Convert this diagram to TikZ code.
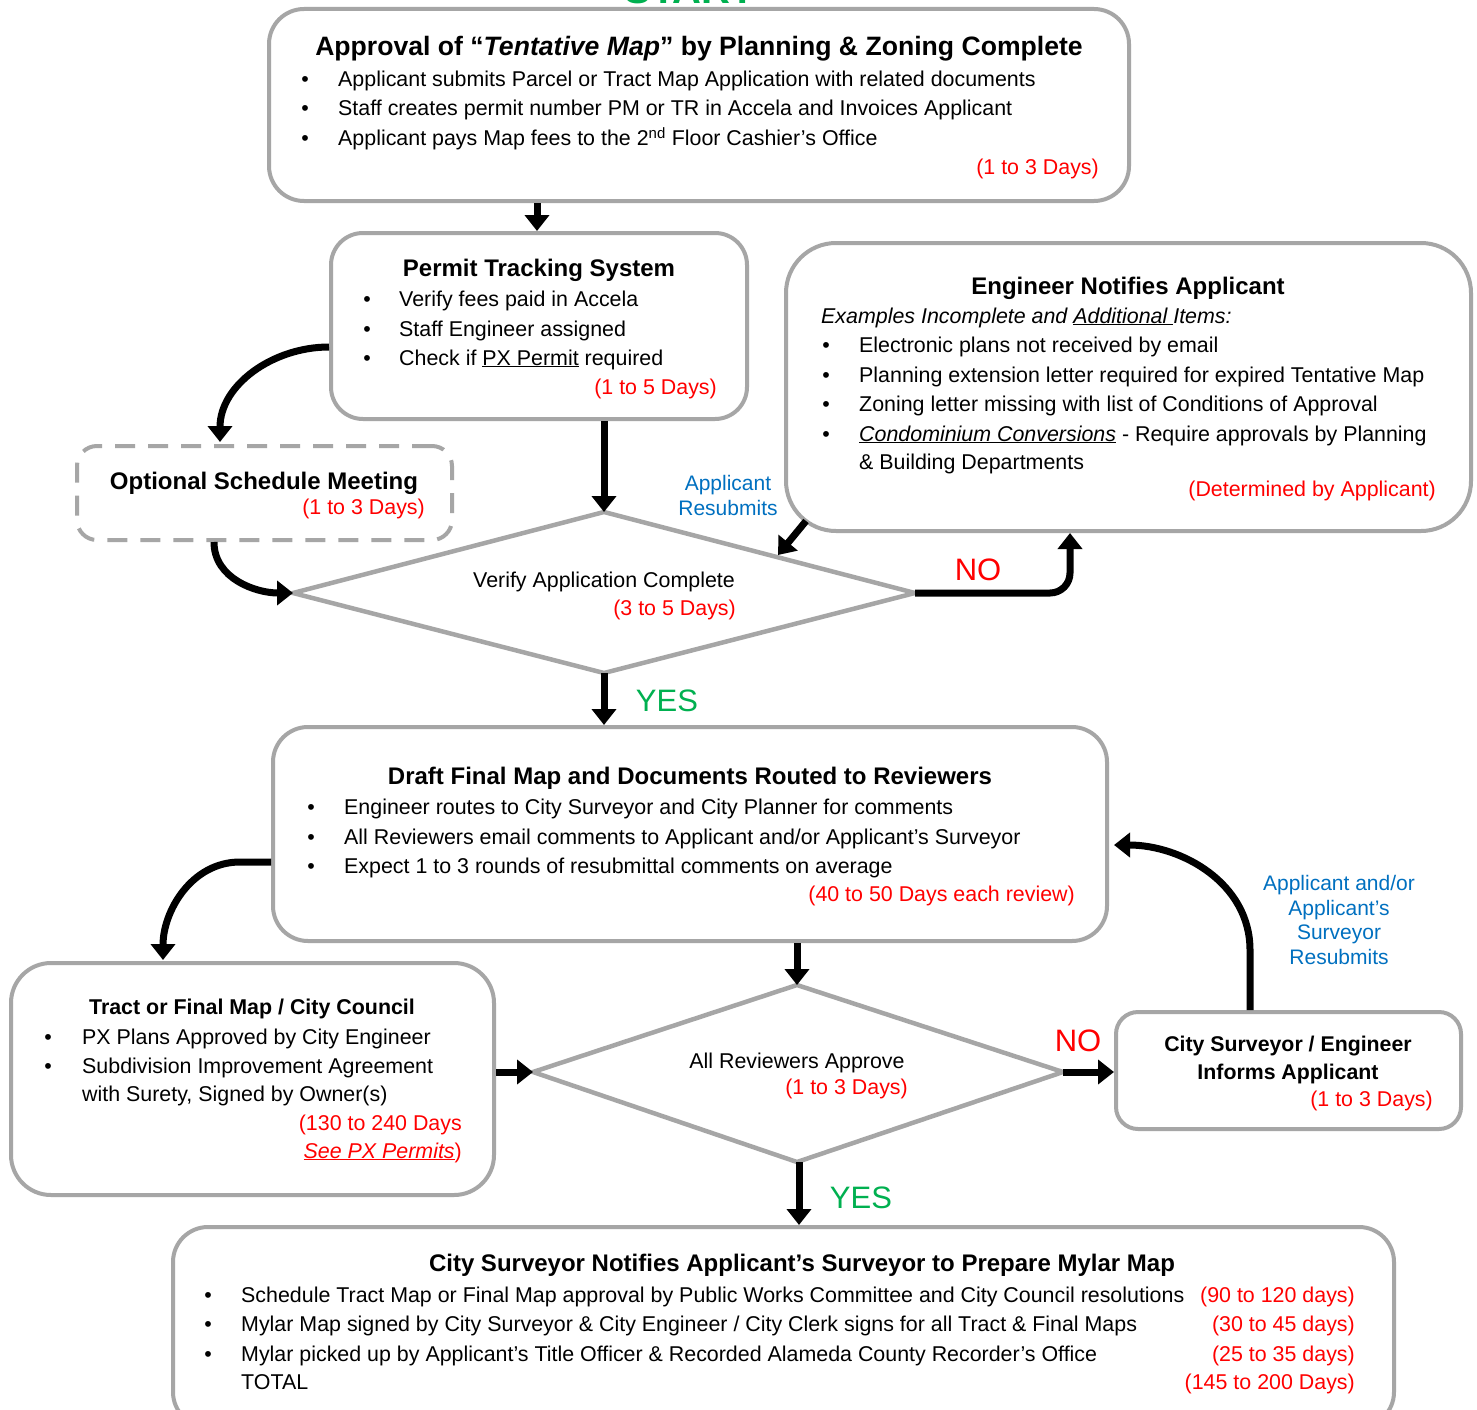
\documentclass[tikz,border=0pt]{standalone}
\usepackage{fontspec}
\setmainfont{Liberation Sans}
\usetikzlibrary{arrows.meta,calc}
\definecolor{bgray}{HTML}{A6A6A6}
\definecolor{dred}{HTML}{FF0000}
\definecolor{dblue}{HTML}{0070C0}
\definecolor{dgreen}{HTML}{00B050}
\tikzset{
  box/.style={draw=bgray, line width=4pt, rounded corners=#1, rectangle, inner sep=0},
  dbox/.style={draw=bgray, line width=4pt, rounded corners=20pt, rectangle, inner sep=0, dash pattern=on 20pt off 13pt},
  dia/.style={draw=bgray, line width=4.5pt, line join=miter},
  ttl/.style={anchor=base, inner sep=0, font=\fontsize{24}{28}\selectfont\bfseries},
  bul/.style={anchor=base, inner sep=0, font=\fontsize{21.4}{25}\selectfont},
  tx/.style={anchor=base west, inner sep=0, font=\fontsize{21.4}{25}\selectfont},
  dy/.style={anchor=base east, inner sep=0, text=dred, font=\fontsize{21.4}{25}\selectfont},
  ctx/.style={anchor=base, inner sep=0, font=\fontsize{21.4}{25}\selectfont},
  blu/.style={anchor=base, inner sep=0, text=dblue, font=\fontsize{21}{25}\selectfont},
  yn/.style={anchor=base, inner sep=0, font=\fontsize{31}{35}\selectfont},
  arr/.style={line width=7pt, -{Triangle[width=24pt,length=16pt]}},
}
\begin{document}
\begin{tikzpicture}[x=1pt,y=-1pt]
\useasboundingbox (0,0) rectangle (1477,1410);
\fill[white] (0,0) rectangle (1477,1410);

% START (cut off at top, as in the reference)
\node[anchor=base, inner sep=0, text=dgreen, font=\fontsize{40}{44}\selectfont\bfseries] (start) at (690,4) {START};

% Boxes
\node[box=35pt, minimum width=860pt, minimum height=192pt] (B1) at (699,105) {};
\node[box=32pt, minimum width=416pt, minimum height=186pt] (B2) at (539,326) {};
\node[box=50pt, minimum width=685pt, minimum height=288pt] (B3) at (1128.5,387) {};
\node[dbox, minimum width=375pt, minimum height=94pt] (OP) at (264.5,493) {};
\node[box=35pt, minimum width=834pt, minimum height=214pt] (B4) at (690,834) {};
\node[box=40pt, minimum width=483pt, minimum height=232pt] (B5) at (252.5,1079) {};
\node[box=22pt, minimum width=345pt, minimum height=117pt] (B6) at (1288.5,1070.5) {};
\node[box=35pt, minimum width=1221pt, minimum height=200pt] (B7) at (783.5,1327) {};

% Diamonds
\coordinate (d1t) at (604,512); \coordinate (d1l) at (293,593);
\coordinate (d1r) at (915,593); \coordinate (d1b) at (604,673);
\draw[dia] (d1t) -- (d1r) -- (d1b) -- (d1l) -- cycle;
\coordinate (d2t) at (797,985); \coordinate (d2l) at (533,1072);
\coordinate (d2r) at (1063,1072); \coordinate (d2b) at (797,1162);
\draw[dia] (d2t) -- (d2r) -- (d2b) -- (d2l) -- cycle;

% Box 1 text
\node[ttl, font=\fontsize{26.6}{30}\selectfont\bfseries] (t1) at (699,56) {Approval of \textquotedblleft\textit{Tentative Map}\textquotedblright{} by Planning \& Zoning Complete};
\node[bul] (b1a) at (305,87) {\textbullet};
\node[bul] (b1b) at (305,116) {\textbullet};
\node[bul] (b1c) at (305,146) {\textbullet};
\node[tx] (x1a) at (338,87) {Applicant submits Parcel or Tract Map Application with related documents};
\node[tx] (x1b) at (338,116) {Staff creates permit number PM or TR in Accela and Invoices Applicant};
\node[tx] (x1c) at (338,146) {Applicant pays Map fees to the 2\textsuperscript{nd} Floor Cashier\textquoteright s Office};
\node[dy] (y1) at (1099,174) {(1 to 3 Days)};

% Box 2 text
\node[ttl] (t2) at (539,276) {Permit Tracking System};
\node[bul] (b2a) at (367,306) {\textbullet};
\node[bul] (b2b) at (367,336) {\textbullet};
\node[bul] (b2c) at (367,365) {\textbullet};
\node[tx] (x2a) at (399,306) {Verify fees paid in Accela};
\node[tx] (x2b) at (399,336) {Staff Engineer assigned};
\node[tx] (x2c) at (399,365) {Check if \underline{PX Permit} required};
\node[dy] (y2) at (717,394) {(1 to 5 Days)};

% Box 3 text
\node[ttl] (t3) at (1128,294) {Engineer Notifies Applicant};
\node[tx] (x3i) at (821,323) {\itshape Examples Incomplete and \underline{Additional }Items:};
\node[bul] (b3a) at (826,352) {\textbullet};
\node[bul] (b3b) at (826,382) {\textbullet};
\node[bul] (b3c) at (826,411) {\textbullet};
\node[bul] (b3d) at (826,441) {\textbullet};
\node[tx] (x3a) at (859,352) {Electronic plans not received by email};
\node[tx] (x3b) at (859,382) {Planning extension letter required for expired Tentative Map};
\node[tx] (x3c) at (859,411) {Zoning letter missing with list of Conditions of Approval};
\node[tx] (x3d) at (859,441) {\underline{\itshape Condominium Conversions} - Require approvals by Planning};
\node[tx] (x3e) at (859,469) {\& Building Departments};
\node[dy] (y3) at (1436,496) {(Determined by Applicant)};

% Optional
\node[ttl] (top) at (264,489) {Optional Schedule Meeting};
\node[dy] (yop) at (425,514) {(1 to 3 Days)};

% Diamond 1 text
\node[ctx] (xd1) at (604,587) {Verify Application Complete};
\node[dy] (yd1) at (736,615) {(3 to 5 Days)};
\node[blu] (r1a) at (728,490) {Applicant};
\node[blu] (r1b) at (728,515) {Resubmits};
\node[yn, text=dred] (no1) at (978,580) {NO};
\node[yn, text=dgreen] (yes1) at (667,711) {YES};

% Box 4 text
\node[ttl] (t4) at (690,784) {Draft Final Map and Documents Routed to Reviewers};
\node[bul] (b4a) at (311,814) {\textbullet};
\node[bul] (b4b) at (311,844) {\textbullet};
\node[bul] (b4c) at (311,873) {\textbullet};
\node[tx] (x4a) at (344,814) {Engineer routes to City Surveyor and City Planner for comments};
\node[tx] (x4b) at (344,844) {All Reviewers email comments to Applicant and/or Applicant\textquoteright s Surveyor};
\node[tx] (x4c) at (344,873) {Expect 1 to 3 rounds of resubmittal comments on average};
\node[dy] (y4) at (1075,901) {(40 to 50 Days each review)};

% Box 5 text
\node[ttl, font=\fontsize{21.4}{25}\selectfont\bfseries] (t5) at (252,1014) {Tract or Final Map / City Council};
\node[bul] (b5a) at (48,1044) {\textbullet};
\node[bul] (b5b) at (48,1073) {\textbullet};
\node[tx] (x5a) at (82,1044) {PX Plans Approved by City Engineer};
\node[tx] (x5b) at (82,1073) {Subdivision Improvement Agreement};
\node[tx] (x5c) at (82,1101) {with Surety, Signed by Owner(s)};
\node[dy] (y5a) at (462,1130) {(130 to 240 Days};
\node[dy] (y5b) at (462,1158) {\underline{\itshape See PX Permits})};

% Diamond 2 text
\node[ctx] (xd2) at (797,1068) {All Reviewers Approve};
\node[dy] (yd2) at (908,1094) {(1 to 3 Days)};
\node[yn, text=dred] (no2) at (1078,1051) {NO};
\node[yn, text=dgreen] (yes2) at (861,1208) {YES};

% Box 6 text
\node[ttl, font=\fontsize{21.3}{25}\selectfont\bfseries] (t6a) at (1288,1051) {City Surveyor / Engineer};
\node[ttl, font=\fontsize{21.3}{25}\selectfont\bfseries] (t6b) at (1288,1079) {Informs Applicant};
\node[dy] (y6) at (1433,1106) {(1 to 3 Days)};
\node[blu] (r2a) at (1339,890) {Applicant and/or};
\node[blu] (r2b) at (1339,915) {Applicant\textquoteright s};
\node[blu] (r2c) at (1339,939) {Surveyor};
\node[blu] (r2d) at (1339,964) {Resubmits};

% Box 7 text
\node[ttl] (t7) at (802,1271) {City Surveyor Notifies Applicant\textquoteright s Surveyor to Prepare Mylar Map};
\node[bul] (b7a) at (208,1302) {\textbullet};
\node[bul] (b7b) at (208,1331) {\textbullet};
\node[bul] (b7c) at (208,1361) {\textbullet};
\node[tx] (x7a) at (241,1302) {Schedule Tract Map or Final Map approval by Public Works Committee and City Council resolutions};
\node[tx] (x7b) at (241,1331) {Mylar Map signed by City Surveyor \& City Engineer / City Clerk signs for all Tract \& Final Maps};
\node[tx] (x7c) at (241,1361) {Mylar picked up by Applicant\textquoteright s Title Officer \& Recorded Alameda County Recorder\textquoteright s Office};
\node[tx] (x7d) at (241,1389) {TOTAL};
\node[dy] (y7a) at (1355,1302) {(90 to 120 days)};
\node[dy] (y7b) at (1355,1331) {(30 to 45 days)};
\node[dy] (y7c) at (1355,1361) {(25 to 35 days)};
\node[dy] (y7d) at (1355,1389) {(145 to 200 Days)};

% Connectors
\coordinate (c1) at (537,203);
\coordinate (c2) at (537,231);
\draw[arr] (c1) -- (c2);
\draw[arr] (B2.south -| d1t) -- (d1t);
\draw[arr] (B2.west |- 0,347) to[out=180,in=90] (220,442);
\draw[arr] (OP.south -| 214,0) to[out=270,in=180] (d1l);
\coordinate (e3) at (806,521);
\coordinate (e3b) at (778,555);
\draw[arr] (e3) -- (e3b);
\draw[arr, rounded corners=20pt] (d1r) -- (1070,593) -- (1070,533);
\draw[arr] (d1b) -- (B4.north -| d1b);
\draw[arr] (B4.west |- 0,862) -- (240,862) to[out=180,in=90] (163,960);
\draw[arr] (B4.south -| d2t) -- (d2t);
\draw[arr] (B5.east |- d2l) -- (d2l);
\draw[arr] (d2r) -- (B6.west |- d2r);
\draw[arr] (d2b -| 799,0) -- (B7.north -| 799,0);
\draw[arr] (B6.north -| 1250,0) -- (1250,950) to[out=90,in=0] (1114,845);
\end{tikzpicture}
\end{document}
